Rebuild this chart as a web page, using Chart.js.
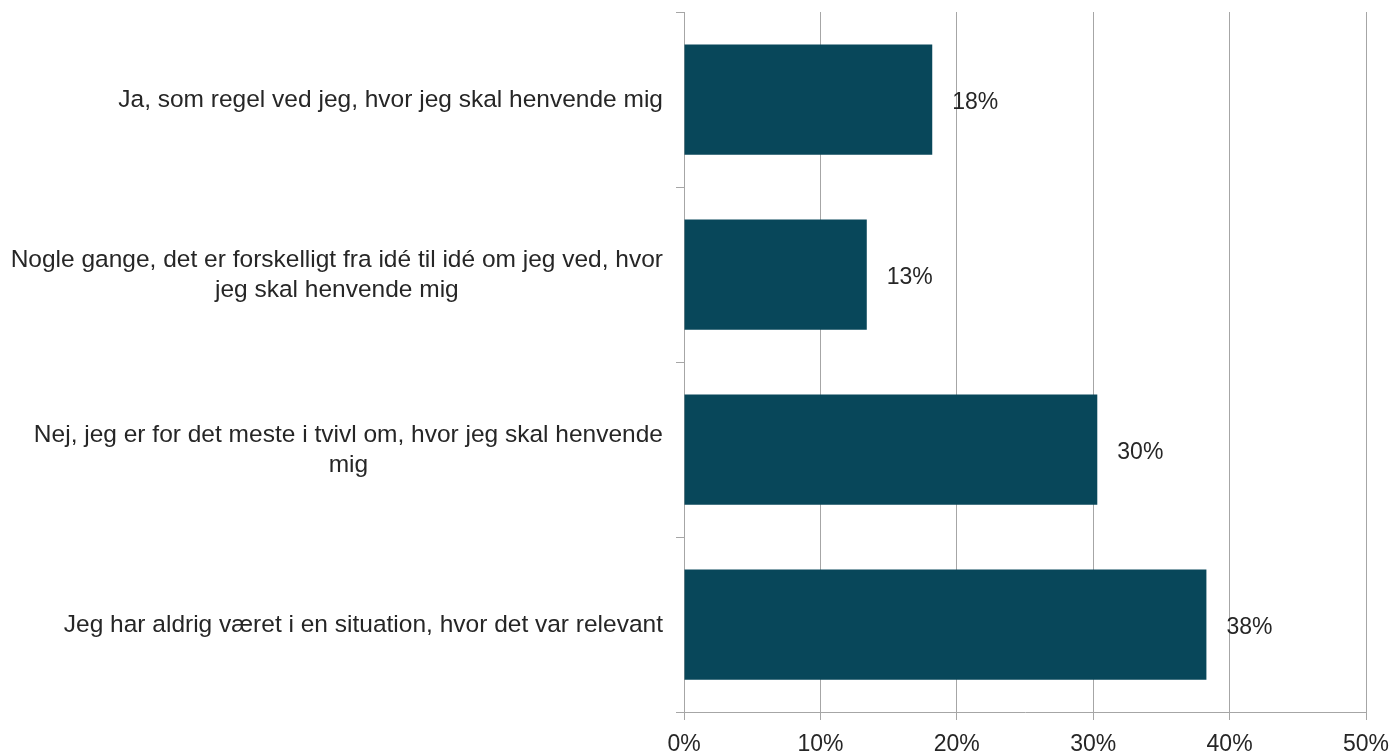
<!DOCTYPE html>
<html>
<head>
<meta charset="utf-8">
<script src="https://cdn.jsdelivr.net/npm/chart.js@4/dist/chart.umd.min.js"></script>
<style>
  html, body { margin: 0; padding: 0; background: #fff; }
  #wrap { width: 1395px; height: 754px; }
</style>
</head>
<body>
<div id="wrap"><canvas id="chartTvivl"></canvas></div>
<script>
const categories = [
    ["Ja, som regel ved jeg, hvor jeg skal henvende mig"],
    ["Nogle gange, det er forskelligt fra idé til idé om jeg ved, hvor", "jeg skal henvende mig"],
    ["Nej, jeg er for det meste i tvivl om, hvor jeg skal henvende", "mig"],
    ["Jeg har aldrig været i en situation, hvor det var relevant"]
];
const andele = [18.2, 13.4, 30.3, 38.3];
const xTicks = [0, 10, 20, 30, 40, 50];

const textColor = '#262626';
const gridColor = '#a6a6a6';
const fontFamily = '"Liberation Sans", Arial, sans-serif';

const labelPlugin = {
    id: 'labelPlugin',
    afterDraw(chart) {
        const ctx = chart.ctx;
        const x = chart.scales.x;
        const y = chart.scales.y;
        ctx.save();
        ctx.fillStyle = textColor;
        ctx.textBaseline = 'middle';

        // kategoritekster: blokken højrestillet, linjerne centreret
        ctx.font = '24.5px ' + fontFamily;
        ctx.textAlign = 'center';
        categories.forEach((lines, i) => {
            const cy = y.getPixelForValue(i);
            const maxW = Math.max(...lines.map(l => ctx.measureText(l).width));
            const cx = 663 - maxW / 2;
            lines.forEach((l, j) => {
                ctx.fillText(l, cx, cy + 1 + (j - (lines.length - 1) / 2) * 30);
            });
        });

        // værdier ved siden af søjlerne
        ctx.font = '23px ' + fontFamily;
        ctx.textAlign = 'left';
        andele.forEach((v, i) => {
            ctx.fillText(Math.round(v) + '%', x.getPixelForValue(v) + 20, y.getPixelForValue(i) + 3);
        });
        ctx.restore();
    }
};

const ctx = document.getElementById('chartTvivl').getContext('2d');
new Chart(ctx, {
    type: 'bar',
    data: {
        labels: categories,
        datasets: [{
            data: andele,
            backgroundColor: '#08475a',
            borderWidth: 0,
            barPercentage: 0.63,
            categoryPercentage: 1
        }]
    },
    plugins: [labelPlugin],
    options: {
        indexAxis: 'y',
        responsive: true,
        maintainAspectRatio: false,
        animation: false,
        layout: { padding: { top: 12, right: 29, left: 0, bottom: 0 } },
        plugins: {
            legend: { display: false },
            tooltip: { enabled: false }
        },
        scales: {
            x: {
                min: 0,
                max: 50,
                afterBuildTicks: s => { s.ticks = xTicks.map(v => ({ value: v })); },
                afterFit: s => { s.height = 42; s.paddingLeft = 0; s.paddingRight = 0; },
                grid: { color: gridColor, lineWidth: 1, tickLength: 8 },
                border: { color: gridColor },
                ticks: {
                    callback: v => v + '%',
                    color: textColor,
                    font: { family: fontFamily, size: 23 },
                    padding: 11,
                    maxRotation: 0
                }
            },
            y: {
                afterFit: s => { s.width = 684; },
                grid: { drawOnChartArea: false, color: gridColor, tickLength: 8 },
                border: { color: gridColor },
                ticks: { display: false }
            }
        }
    }
});
</script>
</body>
</html>
